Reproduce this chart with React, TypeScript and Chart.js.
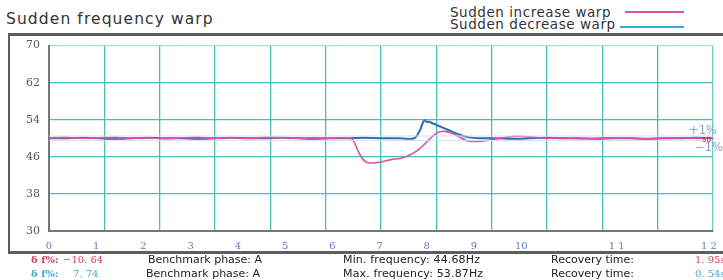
import React, { useEffect, useRef } from "react";
import { Chart, registerables } from "chart.js";

Chart.register(...registerables);

// ---- data ----
const yMin = 30;
const yMax = 70;
const yStep = 8;
const xMin = 0;
const xMax = 12;

// tick labels (value in grid units, label text)
const xTickAt = [0, 0.854, 1.707, 2.561, 3.415, 4.268, 5.122, 5.976, 6.829, 7.683, 8.537, 10.26, 11.93];
const xTickLabels = ["0", "1", "2", "3", "4", "5", "6", "7", "8", "9", "10", "1 1", "1 2"];

const nominal = 50;
const toleranceUpper = 50.5;
const toleranceLower = 49.5;

const increaseTime = [
  0, 0.3, 0.6, 0.9, 1.2, 1.5, 1.8, 2.1, 2.4, 2.7, 3.0, 3.3, 3.6, 3.9, 4.2, 4.5, 4.8, 5.1, 5.4,
  5.47, 5.53, 5.6, 5.68, 5.75, 5.86, 6.0, 6.18, 6.36, 6.5, 6.65, 6.76, 6.86, 6.97, 7.06, 7.15, 7.26,
  7.4, 7.55, 7.7, 7.85, 8.0, 8.2, 8.4, 8.6, 8.8, 9.0,
  9.3, 9.6, 9.9, 10.2, 10.5, 10.8, 11.1, 11.4, 11.7, 12.0,
];
const increaseFreq = [
  50.1, 50.2, 50.0, 50.1, 50.2, 50.0, 50.1, 49.9, 50.1, 50.2, 50.0, 50.1, 50.0, 50.2, 50.1, 50.0, 50.1, 50.0, 50.1,
  50.0, 48.8, 46.9, 45.4, 44.8, 44.68, 44.9, 45.4, 45.7, 46.3, 47.3, 48.4, 49.6, 50.8, 51.4, 51.5, 51.2,
  50.4, 49.5, 49.3, 49.4, 49.7, 50.1, 50.4, 50.4, 50.2, 50.0,
  50.1, 49.9, 50.0, 50.1, 50.0, 49.9, 50.0, 50.1, 50.0, 50.0,
];

const decreaseTime = [
  0, 0.3, 0.6, 0.9, 1.2, 1.5, 1.8, 2.1, 2.4, 2.7, 3.0, 3.3, 3.6, 3.9, 4.2, 4.5, 4.8, 5.1, 5.4, 5.7, 6.0, 6.3, 6.6,
  6.7, 6.76, 6.79, 6.83, 6.87, 6.92, 7.0, 7.14, 7.28, 7.44, 7.59, 7.77,
  8.1, 8.4, 8.7, 9.0, 9.3, 9.6, 9.9, 10.2, 10.5, 10.8, 11.1, 11.4, 11.7, 12.0,
];
const decreaseFreq = [
  50.0, 50.0, 50.1, 50.0, 49.9, 50.0, 50.1, 50.0, 50.0, 49.9, 50.0, 50.1, 50.0, 50.0, 50.1, 50.0, 49.9, 50.0, 50.0, 50.1, 50.0, 50.0, 50.0,
  51.6, 53.4, 53.87, 53.5, 53.6, 53.3, 52.9, 52.2, 51.5, 50.7, 50.2, 50.0,
  50.0, 49.9, 50.0, 50.1, 50.0, 50.0, 49.9, 50.0, 50.0, 49.9, 50.0, 50.0, 50.1, 50.0,
];

const seriesNames = ["Sudden increase warp", "Sudden decrease warp"];

// ---- helpers ----
const SANS = "'DejaVu Sans', sans-serif";
const SERIF = "'DejaVu Serif', serif";

function T(props: {
  x: number;
  base: number;
  size: number;
  color?: string;
  family?: string;
  weight?: number | string;
  ls?: number;
  children: React.ReactNode;
}) {
  const { x, base, size, color = "#333", family = SANS, weight = 400, ls = 0 } = props;
  return (
    <div
      style={{
        position: "absolute",
        left: x,
        top: base - 0.846 * size,
        fontSize: size,
        lineHeight: 1,
        fontFamily: family,
        fontWeight: weight as any,
        color,
        whiteSpace: "nowrap",
        letterSpacing: ls,
      }}
    >
      {props.children}
    </div>
  );
}

function Bar(props: { x: number; y: number; w: number; h: number; c: string }) {
  return (
    <div
      style={{
        position: "absolute",
        left: props.x,
        top: props.y,
        width: props.w,
        height: props.h,
        background: props.c,
      }}
    />
  );
}

export default function App() {
  const ref = useRef<HTMLCanvasElement | null>(null);

  useEffect(() => {
    document.body.style.margin = "0";
    const canvas = ref.current;
    if (!canvas) return;
    const toPts = (xs: number[], ys: number[]) => xs.map((x, i) => ({ x, y: ys[i] }));
    const chart = new Chart(canvas, {
      type: "line",
      data: {
        datasets: [
          {
            label: "+1%",
            data: [
              { x: xMin, y: toleranceUpper },
              { x: xMax, y: toleranceUpper },
            ],
            borderColor: "#dcdcee",
            borderWidth: 1,
            pointRadius: 0,
            xAxisID: "x",
            yAxisID: "y",
          },
          {
            label: "-1%",
            data: [
              { x: xMin, y: toleranceLower },
              { x: xMax, y: toleranceLower },
            ],
            borderColor: "#dcdcee",
            borderWidth: 1,
            pointRadius: 0,
            xAxisID: "x",
            yAxisID: "y",
          },
          {
            label: seriesNames[0],
            data: toPts(increaseTime, increaseFreq),
            borderColor: "#e0529c",
            borderWidth: 1.6,
            pointRadius: 0,
            tension: 0.35,
            xAxisID: "x",
            yAxisID: "y",
          },
          {
            label: seriesNames[1],
            data: toPts(decreaseTime, decreaseFreq),
            borderColor: "#2b6fb6",
            borderWidth: 2,
            pointRadius: 0,
            tension: 0.3,
            xAxisID: "x",
            yAxisID: "y",
          },
        ],
      },
      options: {
        animation: false,
        responsive: false,
        maintainAspectRatio: false,
        layout: { padding: { top: 6, right: 7, left: 0, bottom: 0 }, autoPadding: false } as any,
        plugins: { legend: { display: false }, tooltip: { enabled: false } },
        scales: {
          x: {
            type: "linear",
            axis: "x",
            position: "bottom",
            weight: 0,
            min: xMin,
            max: xMax,
            ticks: { display: false, stepSize: 1 },
            grid: {
              drawTicks: false,
              color: (ctx: any) => (ctx.tick && ctx.tick.value === xMax ? "#6ccbc6" : "#45bfb7"),
              lineWidth: 1.3,
            },
            border: { color: "#777", width: 2 },
          },
          xl: {
            type: "linear",
            axis: "x",
            position: "bottom",
            weight: 1,
            min: xMin,
            max: xMax,
            grid: { display: false, drawTicks: false },
            border: { display: false },
            afterBuildTicks: (s: any) => {
              s.ticks = xTickAt.map((v) => ({ value: v }));
            },
            afterFit: (s: any) => {
              s.height = 19;
            },
            ticks: {
              autoSkip: false,
              maxRotation: 0,
              padding: 9,
              color: "#5a7bc8",
              font: { family: "DejaVu Serif", size: 10 },
              callback: (_v: any, i: number) => xTickLabels[i],
            },
          } as any,
          y: {
            type: "linear",
            min: yMin,
            max: yMax,
            ticks: {
              stepSize: yStep,
              color: "#555",
              padding: 9,
              font: { family: "DejaVu Serif", size: 11 },
            },
            grid: {
              drawTicks: false,
              color: (ctx: any) => (ctx.tick && ctx.tick.value === yMax ? "#a6dedd" : "#45bfb7"),
              lineWidth: 1.3,
            },
            border: { color: "#777", width: 2 },
            afterFit: (s: any) => {
              s.width = 49;
            },
          },
        },
      },
    });
    return () => chart.destroy();
  }, []);

  return (
    <div
      style={{
        position: "fixed",
        left: 0,
        top: 0,
        width: 723,
        height: 280,
        overflow: "hidden",
        background: "#fff",
      }}
    >
      <T x={6} base={25} size={15.5} color="#333" ls={1.1}>
        Sudden frequency warp
      </T>

      {/* legend */}
      <T x={450} base={17.3} size={13.5} color="#333" ls={0.55}>
        {seriesNames[0]}
      </T>
      <Bar x={625} y={11} w={59} h={2} c="#e0529c" />
      <T x={450} base={29.5} size={13.5} color="#333" ls={0.55}>
        {seriesNames[1]}
      </T>
      <Bar x={620} y={25.5} w={64} h={2} c="#3ea8d8" />

      <canvas
        ref={ref}
        width={726}
        height={220}
        style={{ position: "absolute", left: 0, top: 30, width: 726, height: 220 }}
      />

      {/* frame */}
      <Bar x={8} y={33} w={715} h={2.5} c="#5e5e5e" />
      <Bar x={8} y={33} w={2} h={220} c="#5e5e5e" />
      <Bar x={8} y={251} w={715} h={2.5} c="#5e5e5e" />

      {/* tolerance marks */}
      <T x={689} base={135} size={11.5} color="#8e9cd4">
        +1%
      </T>
      <T x={702} base={142.5} size={7} color="#444">
        {nominal}
      </T>
      <T x={695} base={152} size={11.5} color="#8e9cd4">
        −1%
      </T>

      {/* bottom info */}
      <T x={31} base={263.5} size={10} family={SERIF} weight={700} color="#d4405c">
        δ f%:
      </T>
      <T x={63} base={263.5} size={10} family={SERIF} color="#d4405c">
        −10. 64
      </T>
      <T x={148} base={263.5} size={11} color="#222">
        Benchmark phase: A
      </T>
      <T x={343} base={263.5} size={11} color="#222" ls={0.15}>
        Min. frequency: 44.68Hz
      </T>
      <T x={551} base={263.5} size={11} color="#222">
        Recovery time:
      </T>
      <T x={695} base={263.5} size={10} family={SERIF} color="#d4405c">
        1. 95s
      </T>

      <T x={31} base={277} size={10} family={SERIF} weight={700} color="#3ea8d8">
        δ f%:
      </T>
      <T x={73} base={277} size={10} family={SERIF} color="#3ea8d8">
        7. 74
      </T>
      <T x={146} base={277} size={11} color="#222">
        Benchmark phase: A
      </T>
      <T x={343} base={277} size={11} color="#222" ls={0.15}>
        Max. frequency: 53.87Hz
      </T>
      <T x={551} base={277} size={11} color="#222">
        Recovery time:
      </T>
      <T x={695} base={277} size={10} family={SERIF} color="#3ea8d8">
        0. 54s
      </T>
    </div>
  );
}
